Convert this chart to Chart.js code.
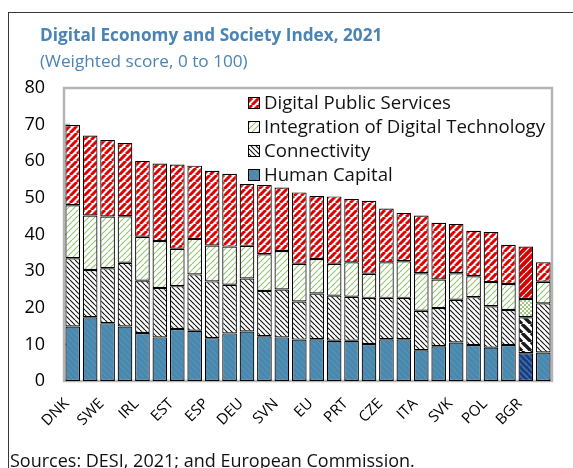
<!DOCTYPE html>
<html>
<head>
<meta charset="utf-8">
<script src="https://cdn.jsdelivr.net/npm/chart.js@4.4.1/dist/chart.umd.min.js"></script>
<style>
  html, body { margin: 0; padding: 0; background: #fff; }
  #wrap { width: 573px; height: 468px; position: relative; }
</style>
</head>
<body>
<div id="wrap"><canvas id="myChart"></canvas></div>
<script>
var categories = ['DNK', 'FIN', 'SWE', 'NLD', 'IRL', 'MLT', 'EST', 'LUX', 'ESP', 'AUT', 'DEU', 'BEL', 'SVN', 'LTU',
    'EU', 'FRA', 'PRT', 'LVA', 'CZE', 'HRV', 'ITA', 'CYP', 'SVK', 'HUN', 'POL', 'GRC', 'BGR', 'ROU'];

var humanCapital = [14.9, 17.4, 15.8, 14.9, 13.1, 11.9, 14.2, 13.7, 11.7, 13.0, 13.5, 12.2, 11.9, 11.3,
    11.4, 11.0, 11.0, 10.1, 11.4, 11.4, 8.4, 9.5, 10.5, 9.8, 9.1, 9.8, 7.6, 7.8];
var connectivity = [18.6, 12.9, 15.0, 17.4, 14.3, 13.5, 11.7, 15.4, 15.5, 13.3, 14.5, 12.4, 13.1, 10.4,
    12.5, 12.3, 12.0, 12.6, 11.3, 11.3, 10.8, 10.4, 11.7, 13.1, 11.3, 9.6, 9.8, 13.4];
var integration = [14.5, 14.9, 14.1, 12.7, 12.0, 12.8, 10.2, 9.7, 9.8, 10.4, 8.9, 10.0, 10.5, 10.3,
    9.4, 8.7, 9.4, 6.6, 9.7, 10.0, 10.2, 7.8, 7.2, 5.7, 6.6, 7.1, 5.0, 5.9];
var publicServices = [21.9, 21.8, 20.9, 20.0, 20.7, 21.2, 23.0, 20.0, 20.4, 19.9, 16.9, 18.9, 17.3, 19.5,
    17.2, 18.4, 17.3, 19.9, 14.7, 13.2, 15.8, 15.5, 13.5, 12.4, 13.7, 10.7, 14.3, 5.3];

var yTicks = [0, 10, 20, 30, 40, 50, 60, 70, 80];
var highlight = 'BGR';

var FONT = "'Open Sans', 'Noto Sans', sans-serif";
var BLUE_TEXT = '#4a84b5';

// diagonal stripe tiles, dir 1 = '/', dir -1 = '\'
function stripes(size, bg, fg, width, dir) {
    var c = document.createElement('canvas');
    c.width = size; c.height = size;
    var g = c.getContext('2d');
    g.fillStyle = bg;
    g.fillRect(0, 0, size, size);
    g.strokeStyle = fg;
    g.lineWidth = width;
    g.beginPath();
    for (var k = -1; k <= 1; k++) {
        if (dir > 0) {
            g.moveTo(k * size, size); g.lineTo(k * size + size, 0);
        } else {
            g.moveTo(k * size, 0); g.lineTo(k * size + size, size);
        }
    }
    g.stroke();
    return g.createPattern(c, 'repeat');
}

function checker(size, bg, fg) {
    var c = document.createElement('canvas');
    c.width = size * 2; c.height = size * 2;
    var g = c.getContext('2d');
    g.fillStyle = bg;
    g.fillRect(0, 0, size * 2, size * 2);
    g.fillStyle = fg;
    g.fillRect(0, 0, size, size);
    g.fillRect(size, size, size, size);
    return g.createPattern(c, 'repeat');
}

var pat = {
    hc: stripes(6, '#4a87ad', '#5590b5', 1.5, -1),
    hcHi: stripes(6, '#1c3d7a', '#3f6fb2', 1.6, -1),
    conn: stripes(5, '#ffffff', '#111111', 1.1, -1),
    connHi: stripes(9, '#ffffff', '#1a1a1a', 3.4, -1),
    idt: stripes(6, '#ffffff', '#94c473', 1.1, 1),
    idtHi: checker(2, '#ffffff', '#9ccb7c'),
    dps: stripes(7, '#ffffff', '#e00000', 3.0, 1),
    dpsHi: stripes(7, '#d40000', '#ffffff', 1.2, 1)
};

function fills(normal, hi) {
    return categories.map(function (c) { return c === highlight ? hi : normal; });
}

var frameAndText = {
    id: 'frameAndText',
    beforeDatasetsDraw: function (chart) {
        var ctx = chart.ctx;
        var a = chart.chartArea;
        var y = chart.scales.y;
        ctx.save();
        ctx.strokeStyle = '#b5b5b5';
        ctx.lineWidth = 2.5;
        ctx.strokeRect(a.left, a.top, a.right - a.left, a.bottom - a.top);
        ctx.lineWidth = 2;
        for (var t of yTicks) {
            if (t === 0 || t === 80) continue;
            var py = y.getPixelForValue(t);
            ctx.beginPath();
            ctx.moveTo(a.left, py);
            ctx.lineTo(a.left + 6, py);
            ctx.stroke();
        }
        ctx.restore();
    },
    afterDraw: function (chart) {
        var ctx = chart.ctx;
        ctx.save();
        // outer figure border
        ctx.strokeStyle = '#3a3a3a';
        ctx.lineWidth = 1;
        ctx.strokeRect(8.5, 12.5, 600, 500);

        ctx.fillStyle = BLUE_TEXT;
        ctx.textBaseline = 'alphabetic';
        ctx.textAlign = 'left';
        ctx.font = 'bold 17.2px ' + FONT;
        ctx.fillText('Digital Economy and Society Index, 2021', 40, 41);
        ctx.font = '17.2px ' + FONT;
        ctx.fillText('(Weighted score, 0 to 100)', 40, 67);

        ctx.fillStyle = '#111';
        ctx.font = '18px ' + FONT;
        ctx.fillText('Sources: DESI, 2021; and European Commission.', 10, 467);

        // legend, top item first
        var items = [
            ['Digital Public Services', pat.dps],
            ['Integration of Digital Technology', pat.idt],
            ['Connectivity', pat.conn],
            ['Human Capital', pat.hc]
        ];
        ctx.font = '18.6px ' + FONT;
        ctx.textBaseline = 'middle';
        items.forEach(function (it, i) {
            var cy = 103 + i * 24;
            ctx.fillStyle = it[1];
            ctx.fillRect(248, cy - 6, 12, 12);
            ctx.strokeStyle = '#000';
            ctx.lineWidth = 1;
            ctx.strokeRect(248.5, cy - 5.5, 11, 11);
            ctx.fillStyle = '#111';
            ctx.fillText(it[0], 264, cy + 1);
        });
        ctx.restore();
    }
};

var ctx = document.getElementById('myChart').getContext('2d');
var myChart = new Chart(ctx, {
    type: 'bar',
    data: {
        labels: categories,
        datasets: [{
            label: 'Human Capital',
            data: humanCapital,
            backgroundColor: fills(pat.hc, pat.hcHi)
        }, {
            label: 'Connectivity',
            data: connectivity,
            backgroundColor: fills(pat.conn, pat.connHi)
        }, {
            label: 'Integration of Digital Technology',
            data: integration,
            backgroundColor: fills(pat.idt, pat.idtHi)
        }, {
            label: 'Digital Public Services',
            data: publicServices,
            backgroundColor: fills(pat.dps, pat.dpsHi)
        }]
    },
    options: {
        responsive: true,
        maintainAspectRatio: false,
        animation: false,
        datasets: {
            bar: {
                barPercentage: 0.84,
                categoryPercentage: 1,
                borderColor: '#000',
                borderWidth: 1.2,
                borderSkipped: false
            }
        },
        layout: {
            padding: { top: 88, right: 21, left: 0, bottom: 0 }
        },
        plugins: {
            legend: { display: false },
            tooltip: { enabled: false }
        },
        scales: {
            x: {
                stacked: true,
                grid: { display: false },
                border: { display: false },
                afterFit: function (scale) { scale.height = 87; },
                ticks: {
                    autoSkip: false,
                    maxRotation: 45,
                    minRotation: 45,
                    padding: 6,
                    labelOffset: -6,
                    color: '#000',
                    font: { family: FONT, size: 15 },
                    callback: function (value, index) {
                        return index % 2 === 0 ? categories[index] : '';
                    }
                }
            },
            y: {
                stacked: true,
                min: 0,
                max: 80,
                grid: { display: false, drawTicks: false },
                border: { display: false },
                afterFit: function (scale) { scale.width = 64; },
                ticks: {
                    stepSize: 10,
                    padding: 19,
                    color: '#000',
                    font: { family: FONT, size: 18 }
                }
            }
        }
    },
    plugins: [frameAndText]
});
</script>
</body>
</html>
